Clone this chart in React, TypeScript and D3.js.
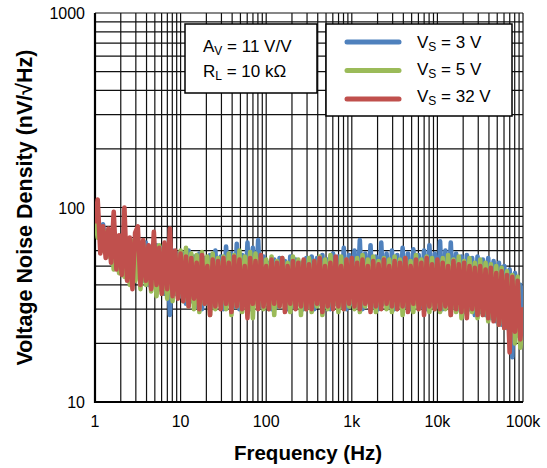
import React from "react";
import * as d3 from "d3";

// Noise density, 32 samples per decade from 1 Hz to 100 kHz (161 points)
const vs3 = [
  80, 75, 70, 82, 62, 76, 58, 72, 55, 70, 50, 68, 46, 66, 44, 64,
  46, 65, 42, 66, 40, 63, 42, 64, 38, 62, 36, 64, 28, 60, 36, 58,
  35, 58, 32, 60, 33, 56, 31, 58, 30, 55, 32, 57, 31, 60, 33, 56,
  30, 63, 32, 58, 31, 65, 30, 57, 32, 66, 30, 62, 33, 68, 31, 56,
  32, 52, 30, 54, 31, 55, 33, 53, 30, 56, 31, 54, 32, 52, 30, 55,
  31, 56, 30, 55, 32, 57, 31, 54, 30, 58, 32, 56, 31, 62, 30, 57,
  32, 60, 31, 68, 30, 58, 33, 64, 31, 56, 30, 66, 32, 58, 31, 60,
  30, 57, 32, 62, 31, 58, 30, 61, 32, 57, 31, 60, 30, 64, 32, 58,
  31, 67, 30, 60, 32, 66, 31, 58, 30, 56, 29, 57, 30, 55, 28, 56,
  29, 54, 28, 55, 27, 53, 26, 52, 25, 50, 24, 48, 17, 46, 22, 40,
  28,
];

const vs5 = [
  88, 70, 78, 60, 75, 56, 72, 48, 70, 46, 68, 44, 66, 40, 67, 42,
  64, 38, 66, 40, 62, 37, 63, 35, 64, 36, 60, 34, 62, 33, 58, 35,
  60, 33, 62, 31, 58, 30, 57, 29, 59, 32, 56, 28, 58, 30, 55, 31,
  56, 30, 58, 28, 57, 31, 60, 29, 56, 30, 59, 27, 58, 31, 55, 30,
  54, 30, 56, 28, 53, 31, 55, 30, 52, 29, 56, 31, 54, 28, 53, 30,
  55, 29, 53, 31, 56, 28, 54, 30, 57, 31, 53, 29, 56, 30, 54, 31,
  53, 30, 55, 29, 57, 31, 54, 30, 56, 29, 53, 31, 55, 30, 54, 29,
  56, 30, 54, 28, 55, 31, 53, 29, 57, 30, 54, 31, 56, 29, 55, 30,
  53, 29, 55, 30, 57, 28, 54, 29, 56, 27, 53, 28, 55, 29, 52, 27,
  54, 28, 52, 26, 51, 27, 50, 25, 49, 24, 47, 23, 45, 20, 44, 19,
  26,
];

const vs32 = [
  85, 110, 58, 80, 55, 78, 52, 95, 48, 72, 45, 100, 42, 70, 38, 74,
  80, 40, 68, 42, 64, 38, 75, 40, 62, 36, 66, 38, 78, 35, 60, 34,
  58, 33, 56, 31, 55, 34, 52, 30, 57, 32, 50, 28, 54, 31, 53, 30,
  55, 32, 52, 29, 56, 31, 54, 30, 50, 27, 55, 32, 53, 30, 57, 31,
  50, 30, 54, 32, 52, 31, 55, 29, 50, 32, 53, 30, 52, 31, 54, 30,
  51, 30, 53, 32, 55, 29, 50, 31, 52, 30, 56, 31, 50, 30, 54, 32,
  55, 31, 52, 30, 54, 32, 50, 29, 53, 31, 51, 30, 54, 32, 50, 31,
  53, 30, 52, 31, 55, 29, 50, 32, 54, 30, 52, 28, 55, 31, 51, 30,
  54, 30, 52, 31, 50, 28, 53, 30, 51, 29, 52, 27, 50, 30, 49, 28,
  50, 28, 48, 27, 49, 26, 46, 25, 47, 24, 45, 18, 44, 23, 42, 21,
  30,
];

const seriesNames = ["3 V", "5 V", "32 V"];
const seriesColors = ["#4f81bd", "#9bbb59", "#c0504d"];
const xTickLabels = ["1", "10", "100", "1k", "10k", "100k"];
const yTickLabels = ["10", "100", "1000"];

const W = 547;
const H = 468;
const left = 95, right = 523, top = 13, bottom = 402;

export default function App() {
  const x = d3.scaleLog().domain([1, 1e5]).range([left, right]);
  const y = d3.scaleLog().domain([10, 1000]).range([bottom, top]);

  // sample frequencies of the sweep
  const freq = (i: number) => Math.pow(10, i / 32);

  const line = d3
    .line<number>()
    .x((_, i) => x(freq(i)))
    .y((d) => y(d));

  const series = [vs3, vs5, vs32];
  const font = "'Liberation Sans', Arial, Helvetica, sans-serif";

  return (
    <svg width={W} height={H} style={{ position: "absolute", left: 0, top: 0 }} fontFamily={font}>
      <rect width={W} height={H} fill="#fff" />
      <defs>
        <clipPath id="plot">
          <rect x={left} y={top} width={right - left} height={bottom - top} />
        </clipPath>
      </defs>

      {/* grid */}
      {x.ticks().map((t, i) => (
        <line key={`gx${i}`} x1={x(t)} x2={x(t)} y1={top} y2={bottom} stroke="#111" strokeWidth={1.2} />
      ))}
      {y.ticks().map((t, i) => (
        <line key={`gy${i}`} x1={left} x2={right} y1={y(t)} y2={y(t)} stroke="#111" strokeWidth={1.2} />
      ))}
      <line x1={left} x2={left} y1={top} y2={bottom + 1} stroke="#000" strokeWidth={2.2} />
      <line x1={left - 1} x2={right} y1={bottom} y2={bottom} stroke="#000" strokeWidth={2.2} />

      {/* data */}
      <g clipPath="url(#plot)">
        {series.map((s, k) => (
          <path
            key={k}
            d={line(s) ?? ""}
            fill="none"
            stroke={seriesColors[k]}
            strokeWidth={4.6}
            strokeLinejoin="round"
            strokeLinecap="round"
          />
        ))}
      </g>

      {/* tick labels */}
      {xTickLabels.map((l, i) => (
        <text key={l} x={x(Math.pow(10, i))} y={427} fontSize={16} textAnchor="middle">
          {l}
        </text>
      ))}
      {yTickLabels.map((l, i) => (
        <text key={l} x={85} y={y(Math.pow(10, i + 1)) + 6} fontSize={16} textAnchor="end">
          {l}
        </text>
      ))}

      {/* axis titles */}
      <text x={308} y={460} fontSize={20.5} fontWeight="bold" textAnchor="middle">
        Frequency (Hz)
      </text>
      <text
        transform={`translate(32,${(top + bottom) / 2}) rotate(-90)`}
        fontSize={21.5}
        fontWeight="bold"
        textAnchor="middle"
      >
        Voltage Noise Density (nV/√Hz)
      </text>

      {/* condition box */}
      <rect x={185} y={24} width={132} height={69} fill="#fff" stroke="#000" strokeWidth={1.5} />
      <text x={203} y={51.5} fontSize={17}>
        A<tspan fontSize={12} dy={3}>V</tspan>
        <tspan dy={-3}> = 11 V/V</tspan>
      </text>
      <text x={203} y={76.5} fontSize={17}>
        R<tspan fontSize={12} dy={3}>L</tspan>
        <tspan dy={-3}> = 10 kΩ</tspan>
      </text>

      {/* legend */}
      <rect x={326} y={24} width={186} height={92} fill="#fff" stroke="#000" strokeWidth={1.5} />
      {seriesNames.map((n, k) => (
        <g key={n}>
          <line
            x1={347}
            x2={399}
            y1={42 + k * 28.5}
            y2={42 + k * 28.5}
            stroke={seriesColors[k]}
            strokeWidth={5}
            strokeLinecap="round"
          />
          <text x={417} y={48 + k * 27} fontSize={17}>
            V<tspan fontSize={12} dy={3}>S</tspan>
            <tspan dy={-3}> = {n}</tspan>
          </text>
        </g>
      ))}
    </svg>
  );
}
